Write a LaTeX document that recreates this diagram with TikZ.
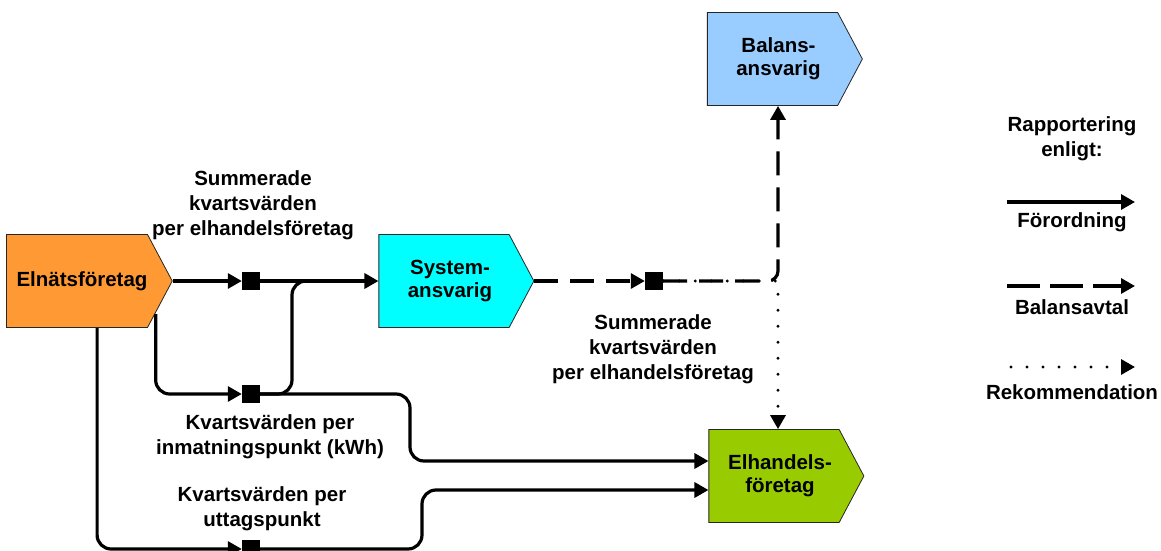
\documentclass[tikz,border=0pt]{standalone}
\usepackage{fontspec}
\setmainfont{Liberation Sans}
\usetikzlibrary{shapes.symbols,arrows.meta,calc}
\definecolor{elnfill}{HTML}{FF9933}
\definecolor{sysfill}{HTML}{00FFFF}
\definecolor{balfill}{HTML}{99CCFF}
\definecolor{elhfill}{HTML}{99CC00}
\begin{document}
\begin{tikzpicture}[x=1pt,y=-1pt,
  box/.style={signal, signal to=east, signal from=nowhere, signal pointer angle=124,
    draw=black!85, line width=0.8pt, minimum width=155pt, minimum height=93pt,
    inner sep=0pt, align=center, font=\fontsize{20.5}{23}\selectfont\bfseries},
  sq/.style={fill=black, minimum size=18pt, inner sep=0pt},
  lbl/.style={align=center, inner sep=0pt, font=\fontsize{20.5}{25}\selectfont\bfseries},
  tip/.style={-{Triangle[length=14pt,width=15pt]}},
  line/.style={line width=3.2pt},
  flow/.style={line, tip},
  dsh/.style={line, dash pattern=on 24pt off 12pt},
  dot/.style={line width=3.2pt, line cap=round, dash pattern=on 0pt off 16pt}
]
\useasboundingbox (0,0) rectangle (1161,551);

% main nodes
\node[box, fill=elnfill] (eln) at (77,281) {\hspace*{10pt}Elnätsföretag};
\node[box, fill=sysfill] (sys) at (444,281) {\hspace*{12pt}System-\\\hspace*{12pt}ansvarig};
\node[box, fill=balfill] (bal) at (772.5,59) {\hspace*{12pt}Balans-\\\hspace*{12pt}ansvarig};
\node[box, fill=elhfill] (elh) at (774,476) {\hspace*{12pt}Elhandels-\\\hspace*{12pt}företag};

% junction squares
\node[sq] (s1) at (251,281) {};
\node[sq] (s2) at (251,394) {};
\node[sq] (s3) at (251,549) {};
\node[sq] (s4) at (654,281) {};

\coordinate (j1) at (330,281);

% solid flows
\draw[flow] (eln.east) -- (s1.west);
\draw[flow] (s1.east) -- (sys.west);
\draw[flow, rounded corners=14pt] ($(eln.east)+(-17,33)$) |- (s2.west);
\draw[line, rounded corners=14pt] (s2.east) -- (292,394) -- (292,281) -- (j1);
\draw[flow, rounded corners=14pt] (s2.east) -- (410,394) -- (410,461) -- ([yshift=15pt]elh.west);
\draw[flow, rounded corners=14pt] ($(eln.west)+(91,47)$) |- (s3.west);
\draw[flow, rounded corners=14pt] (s3.east) -- (422,549) -- (422,490) -- ([yshift=-14pt]elh.west);

% dashed / dotted flows
\draw[dsh, tip] (sys.east) -- (s4.west);
\draw[dsh, tip, rounded corners=10pt] (s4.east) -- (778,281) -- ([xshift=5.5pt]bal.south);
\draw[dot, tip] (s4.east) -- (778,281) -- ([xshift=4pt]elh.north);

% labels
\node[lbl] (la) at (253,205) {Summerade\\kvartsvärden\\per elhandelsföretag};
\node[lbl] (lb) at (653,349) {Summerade\\kvartsvärden\\per elhandelsföretag};
\node[lbl] (lc) at (270,437) {Kvartsvärden per\\inmatningspunkt (kWh)};
\node[lbl] (ld) at (262,509) {Kvartsvärden per\\uttagspunkt};

% legend
\node[lbl] (lt) at (1072,139) {Rapportering\\enligt:};
\coordinate (l1a) at (1007,202); \coordinate (l1b) at (1135,202);
\coordinate (l2a) at (1007,286); \coordinate (l2b) at (1135,286);
\coordinate (l3a) at (1011,367); \coordinate (l3b) at (1135,367);
\draw[flow] (l1a) -- (l1b);
\draw[line, tip, dash pattern=on 33pt off 10pt] (l2a) -- (l2b);
\draw[dot, tip] (l3a) -- (l3b);
\node[lbl] (lf) at (1072,222) {Förordning};
\node[lbl] (lg) at (1072,307) {Balansavtal};
\node[lbl] (lh) at (1072,392) {Rekommendation};
\end{tikzpicture}
\end{document}
